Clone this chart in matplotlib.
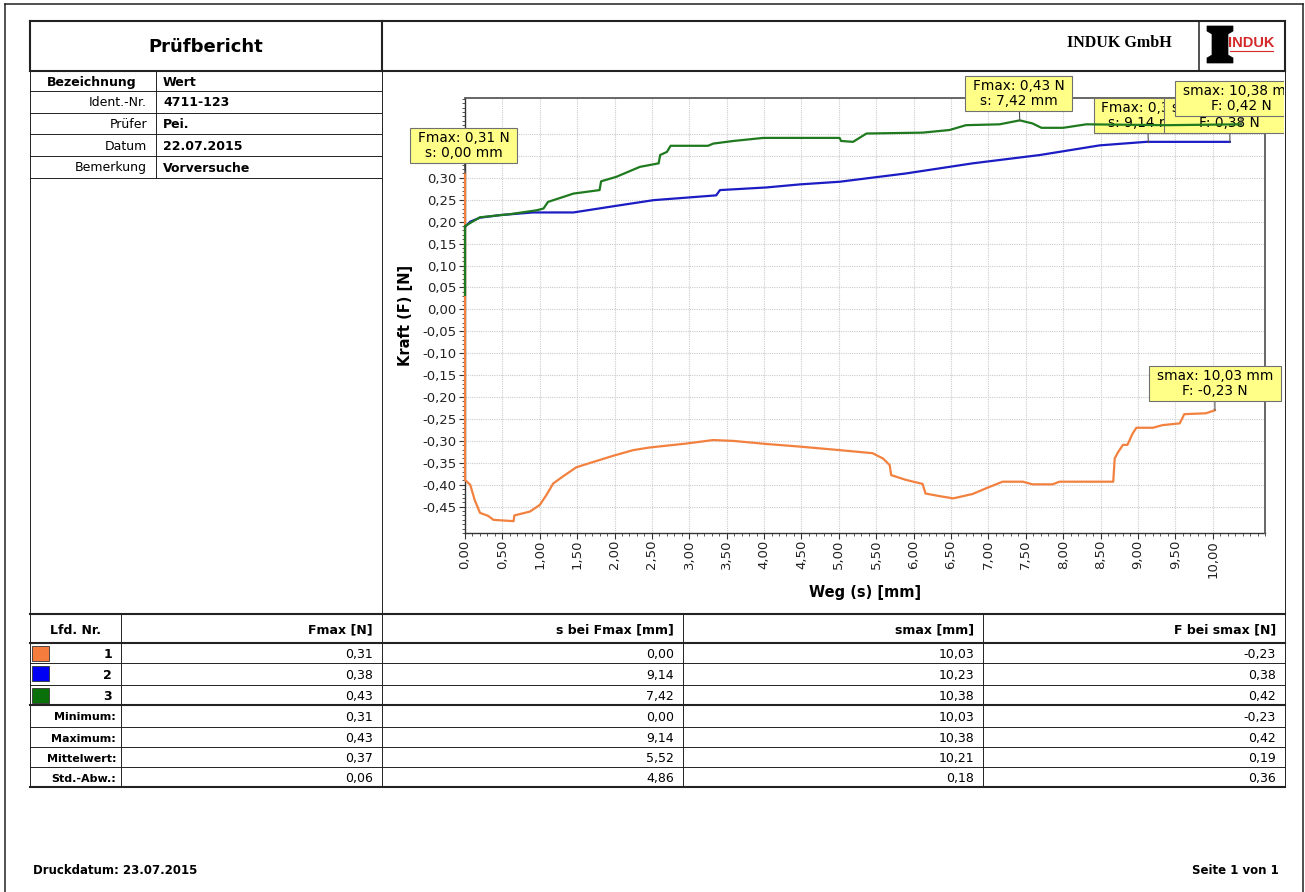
import matplotlib
matplotlib.use("Agg")
import matplotlib.pyplot as plt
from matplotlib.ticker import MultipleLocator, FuncFormatter, FixedLocator
from matplotlib.patches import Rectangle, Polygon
from matplotlib.path import Path
from matplotlib.transforms import Bbox, TransformedBbox

plt.rcParams['font.family'] = ['DejaVu Sans']

# Messkurven: Weg s [mm] / Kraft F [N]
s1 = [0.00, 0.00, 0.07, 0.13, 0.20, 0.31, 0.38, 0.65, 0.66, 0.87, 1.00, 1.09, 1.18, 1.31,
      1.49, 1.98, 2.25, 2.47, 2.96, 3.32, 3.59, 4.03, 4.48, 5.01, 5.45, 5.59, 5.68, 5.70,
      5.90, 6.12, 6.16, 6.35, 6.53, 6.79, 6.97, 7.19, 7.46, 7.59, 7.86, 7.95, 8.67, 8.69,
      8.73, 8.80, 8.86, 8.93, 8.98, 9.20, 9.33, 9.56, 9.62, 9.91, 10.03]
f1 = [0.31, -0.389, -0.40, -0.435, -0.464, -0.471, -0.48, -0.483, -0.47, -0.461, -0.446,
      -0.423, -0.397, -0.381, -0.36, -0.334, -0.321, -0.315, -0.306, -0.298, -0.300, -0.307,
      -0.313, -0.321, -0.328, -0.34, -0.355, -0.378, -0.389, -0.398, -0.42, -0.426, -0.431,
      -0.421, -0.408, -0.393, -0.393, -0.399, -0.399, -0.393, -0.393, -0.34, -0.327, -0.309,
      -0.309, -0.283, -0.27, -0.27, -0.264, -0.26, -0.239, -0.237, -0.23]

s2 = [0.00, 0.07, 0.20, 0.47, 0.91, 1.45, 1.98, 2.52, 3.36, 3.41, 4.03, 4.48, 5.01, 5.90,
      6.79, 7.69, 8.49, 9.11, 10.23]
f2 = [0.188, 0.20, 0.209, 0.215, 0.221, 0.221, 0.235, 0.249, 0.26, 0.272, 0.278, 0.285,
      0.291, 0.31, 0.333, 0.352, 0.374, 0.382, 0.382]

s3 = [0.00, 0.00, 0.20, 0.60, 0.96, 1.05, 1.11, 1.45, 1.80, 1.82, 2.02, 2.34, 2.59, 2.61,
      2.70, 2.75, 3.25, 3.32, 3.59, 3.99, 5.01, 5.03, 5.19, 5.37, 6.12, 6.48, 6.70, 7.15,
      7.42, 7.59, 7.71, 8.00, 8.31, 9.38, 10.38]
f3 = [0.033, 0.19, 0.21, 0.217, 0.226, 0.23, 0.245, 0.264, 0.272, 0.292, 0.302, 0.325,
      0.333, 0.352, 0.359, 0.373, 0.373, 0.378, 0.384, 0.391, 0.391, 0.384, 0.382, 0.401,
      0.403, 0.409, 0.42, 0.422, 0.431, 0.424, 0.414, 0.414, 0.422, 0.42, 0.422]

colors = ['#f2813f', '#1c1cc4', '#1f7a1f']
box_colors = ['#f47d3e', '#0000f5', '#0a700a']

# Ergebnistabelle
lfd_nr = ['1', '2', '3']
fmax = [0.31, 0.38, 0.43]
s_fmax = [0.00, 9.14, 7.42]
smax = [10.03, 10.23, 10.38]
f_smax = [-0.23, 0.38, 0.42]
stat_names = ['Minimum:', 'Maximum:', 'Mittelwert:', 'Std.-Abw.:']
stat_fmax = [0.31, 0.43, 0.37, 0.06]
stat_s_fmax = [0.00, 9.14, 5.52, 4.86]
stat_smax = [10.03, 10.38, 10.21, 0.18]
stat_f_smax = [-0.23, 0.42, 0.19, 0.36]
col_heads = ['Lfd. Nr.', 'Fmax [N]', 's bei Fmax [mm]', 'smax [mm]', 'F bei smax [N]']

info_labels = ['Ident.-Nr.', 'Prüfer', 'Datum', 'Bemerkung']
info_values = ['4711-123', 'Pei.', '22.07.2015', 'Vorversuche']


def de(v):
    return f"{v:.2f}".replace('.', ',')


def label_box(x0, y0, width, height, mutation_size):
    # rechteckige Box, seitlich mehr Rand als oben/unten
    px = 0.55 * mutation_size
    py = 0.22 * mutation_size
    xa, ya = x0 - px, y0 - py
    xb, yb = x0 + width + px, y0 + height + py
    return Path([(xa, ya), (xb, ya), (xb, yb), (xa, yb), (xa, ya)], closed=True)


fig = plt.figure(figsize=(13.05, 8.92), dpi=100)

# ---- Seitenrahmen / Tabellen (Pixelkoordinaten) ----
page = fig.add_axes([0, 0, 1, 1])
page.axis('off')
TH = 1.5   # dicke Linie
TN = 0.7   # duenne Linie


def hl(y, x0, x1, lw=TN, c='#222222'):
    page.plot([x0, x1], [y, y], color=c, lw=lw, solid_capstyle='projecting')


def vl(x, y0, y1, lw=TN, c='#222222'):
    page.plot([x, x], [y0, y1], color=c, lw=lw, solid_capstyle='projecting')


# aeusserer Rahmen
hl(4, 5, 1303, 1.1)
vl(5, 4, 892, 1.1)
vl(1303, 4, 892, 1.1)

# Kopfzeile
hl(21, 30, 1285, TH)
hl(71, 30, 1285, TH)
vl(30, 21, 71, TH)
vl(1285, 21, 71, TH)
vl(382, 21, 71, TH)
vl(1199, 21, 71, 1.1)
page.text(206, 47, 'Prüfbericht', ha='center', va='center', fontsize=13, fontweight='bold')
page.text(1172, 43, 'INDUK GmbH', ha='right', va='center', fontsize=11.5,
          fontweight='bold', family='Liberation Serif')
# Logo: I-Traeger + roter Schriftzug
beam = [(1207, 26), (1233, 26), (1233, 31), (1228, 34), (1228, 55), (1233, 58),
        (1233, 63), (1207, 63), (1207, 58), (1212, 55), (1212, 34), (1207, 31)]
page.add_patch(Polygon(beam, closed=True, fc='black', ec='black', lw=0.5))
page.text(1251, 43, 'INDUK', ha='center', va='center', fontsize=10.5, fontweight='bold',
          family='Liberation Sans', color='#d42a2a')
hl(51, 1230, 1273, 0.8, '#d42a2a')

# Seitenraender des Berichts
vl(30, 71, 787)
vl(1285, 71, 787)
vl(382, 71, 614)

# Info-Tabelle oben links
row_lines = [91, 113, 134, 156, 178]
for y in row_lines:
    hl(y, 30, 382)
vl(155.5, 71, 178)
page.text(92, 82.5, 'Bezeichnung', ha='center', va='center', fontsize=9, fontweight='bold')
page.text(163, 82.5, 'Wert', ha='left', va='center', fontsize=9, fontweight='bold')
row_mid = [103, 124.5, 146, 168]
for y, lab, val in zip(row_mid, info_labels, info_values):
    page.text(147, y, lab, ha='right', va='center', fontsize=9)
    page.text(163, y, val, ha='left', va='center', fontsize=9, fontweight='bold')

# Ergebnistabelle unten
hl(614, 30, 1285, TH)
hl(643, 30, 1285, TH)
hl(705, 30, 1285, TH)
hl(787, 30, 1285, TH)
for y in [663, 685, 727, 747, 767]:
    hl(y, 30, 1285)
col_edges = [30, 121, 382, 683, 983, 1285]
for x in col_edges[1:-1]:
    vl(x, 614, 787)

page.text(75.5, 630, col_heads[0], ha='center', va='center', fontsize=9, fontweight='bold')
for j in range(1, 5):
    page.text(col_edges[j + 1] - 9, 630, col_heads[j], ha='right', va='center',
              fontsize=9, fontweight='bold')

data_rows = [[fmax[i], s_fmax[i], smax[i], f_smax[i]] for i in range(3)]
data_rows += [[stat_fmax[i], stat_s_fmax[i], stat_smax[i], stat_f_smax[i]] for i in range(4)]
row_bounds = [643, 663, 685, 705, 727, 747, 767, 787]
for r in range(7):
    yc = (row_bounds[r] + row_bounds[r + 1]) / 2 + 1.5
    if r < 3:
        page.add_patch(Rectangle((32, row_bounds[r] + 2.5), 17, 15, fc=box_colors[r],
                                 ec='#333333', lw=0.6))
        page.text(112, yc, lfd_nr[r], ha='right', va='center', fontsize=9, fontweight='bold')
    else:
        page.text(116, yc, stat_names[r - 3], ha='right', va='center', fontsize=8,
                  fontweight='bold')
    for j, v in enumerate(data_rows[r]):
        page.text(col_edges[j + 2] - 9, yc, de(v), ha='right', va='center', fontsize=9)

# Fusszeile
page.text(33, 871, 'Druckdatum: 23.07.2015', ha='left', va='center', fontsize=8.5,
          fontweight='bold')
page.text(1279, 871, 'Seite 1 von 1', ha='right', va='center', fontsize=8.5,
          fontweight='bold')

page.set_xlim(0, 1305)
page.set_ylim(892, 0)

# ---- Diagramm ----
ax = fig.add_axes([465 / 1305, 1 - 533 / 892, 800 / 1305, 435 / 892])
ax.set_xlim(0, 10.7)
ax.set_ylim(-0.51, 0.482)

ax.plot(s1, f1, color=colors[0], lw=1.6, zorder=2, clip_on=False)
ax.plot(s2, f2, color=colors[1], lw=1.6, zorder=4, clip_on=False)
ax.plot(s3, f3, color=colors[2], lw=1.6, zorder=6, clip_on=False)

ax.xaxis.set_major_locator(FixedLocator([i * 0.5 for i in range(21)]))
ax.yaxis.set_major_locator(FixedLocator([round(-0.45 + 0.05 * i, 2) for i in range(18)]))
ax.xaxis.set_minor_locator(MultipleLocator(0.1))
ax.yaxis.set_minor_locator(MultipleLocator(0.01))
ax.xaxis.set_major_formatter(FuncFormatter(lambda v, p: de(v)))
ax.yaxis.set_major_formatter(FuncFormatter(lambda v, p: de(v)))
ax.tick_params(which='major', length=4.5, width=0.8, color='#333333', labelsize=9.5,
               labelcolor='#222222')
ax.tick_params(which='minor', length=2, width=0.7, color='#555555')
ax.tick_params(axis='x', which='major', labelrotation=90, pad=0.5)
ax.tick_params(axis='y', which='major', pad=1.5)
ax.grid(True, which='major', color='#cccccc', linestyle=(0, (1, 1)), lw=0.8)
ax.set_axisbelow(True)
for side in ['left', 'bottom']:
    ax.spines[side].set_color('#333333')
    ax.spines[side].set_linewidth(1.0)
    ax.spines[side].set_zorder(1.5)
for side in ['top', 'right']:
    ax.spines[side].set_color('#5a5a5a')
    ax.spines[side].set_linewidth(1.3)

ax.set_xlabel('Weg (s) [mm]', fontsize=10.5, fontweight='bold')
ax.set_ylabel('Kraft (F) [N]', fontsize=10.5, fontweight='bold')
ax.xaxis.set_label_coords(0.5, -(585 - 533) / 435)
ax.yaxis.set_label_coords((413 - 465) / 800, 0.5)

# Marker-Boxen
ann_kw = dict(fontsize=9.8, ha='center', va='bottom', linespacing=1.1,
              multialignment='center', textcoords='offset pixels', annotation_clip=False,
              bbox=dict(boxstyle=label_box, fc='#ffff88', ec='#707070', lw=0.8),
              arrowprops=dict(arrowstyle='-', color='#505050', lw=0.8, shrinkA=0, shrinkB=0))
fmax_offsets = [(-1.5, 13), (-1, 12.5), (-1, 12.5)]
smax_offsets = [(0, 12.5), (0, 12.5), (0, 12.5)]
clip = TransformedBbox(Bbox.from_extents(0, 0, 1284 / 1305, 1), fig.transFigure)
for i in range(3):
    a1 = ax.annotate(f"Fmax: {de(fmax[i])} N\ns: {de(s_fmax[i])} mm",
                     xy=(s_fmax[i], fmax[i]), xytext=fmax_offsets[i], zorder=3 + 2 * i,
                     **ann_kw)
    a2 = ax.annotate(f"smax: {de(smax[i])} mm\nF: {de(f_smax[i])} N",
                     xy=(smax[i], f_smax[i]), xytext=smax_offsets[i], zorder=3 + 2 * i,
                     **ann_kw)
    for a in (a1, a2):
        a.set_clip_path(None)
        a.set_clip_box(clip)
        a.set_clip_on(True)

fig.savefig('out.png', dpi=100)
